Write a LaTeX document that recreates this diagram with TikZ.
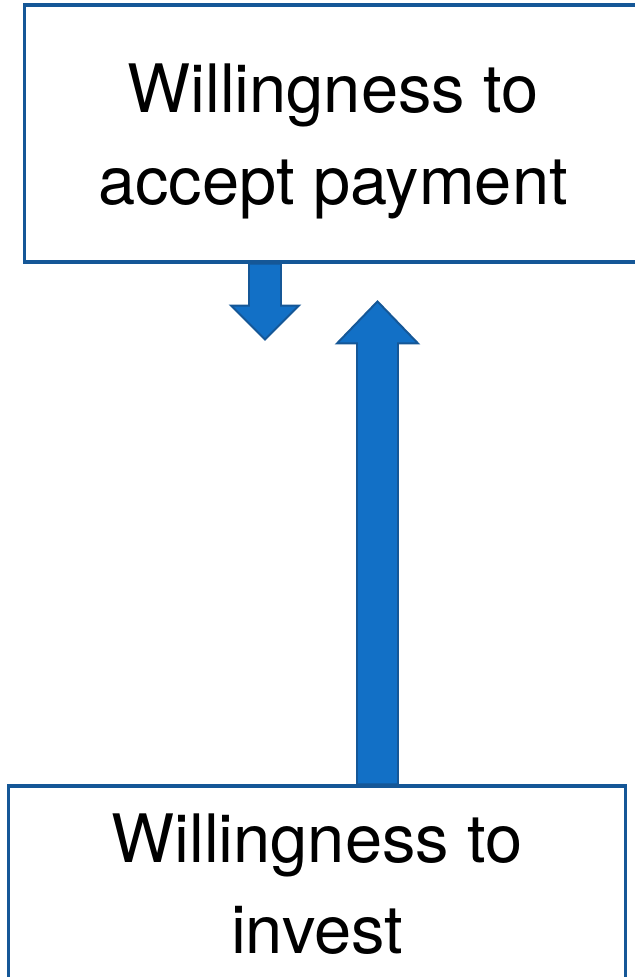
\documentclass[tikz,border=0pt]{standalone}
\usepackage{fontspec}
\setmainfont{TeX Gyre Heros}
\usetikzlibrary{backgrounds}
\definecolor{boxblue}{RGB}{21,87,151}
\definecolor{arrowblue}{RGB}{18,112,198}

\begin{document}
\begin{tikzpicture}[
  x=0.025cm, y=-0.025cm,
  box/.style={draw=boxblue, line width=2.2pt, fill=white, minimum width=15.4cm},
  boxtext/.style={align=center, font=\fontsize{47.5}{65}\selectfont},
  blockarrow/.style={draw=boxblue, fill=arrowblue, line width=1.4pt, line join=miter}
]
  \useasboundingbox (0,0) rectangle (635,977);
  \clip (0,0) rectangle (635,977);
  \node[box, minimum height=6.425cm] (accept) at (333,133.5) {};
  \node[boxtext] (accepttext) at ([yshift=-0.2cm]accept.center) {Willingness to\\accept payment};
  \node[box, minimum height=5.4cm] (invest) at (317,894) {};
  \node[boxtext] (investtext) at ([yshift=0.25cm]invest.center) {Willingness to\\invest};
  \coordinate (dtop) at (265,0 |- accept.south);
  \coordinate (ubot) at (377.5,0 |- invest.north);
  \begin{scope}[on background layer]
    % short arrow down from the top box
    \draw[blockarrow] (dtop) ++(-16,0) -- ++(0,42) -- ++(-18,0) -- ++(34,34) -- ++(34,-34) -- ++(-18,0) -- ++(0,-42) -- cycle;
    % long arrow up from the bottom box
    \draw[blockarrow] (ubot) ++(-20.5,0) -- ++(0,-441) -- ++(-20,0) -- ++(40.5,-42) -- ++(40.5,42) -- ++(-20,0) -- ++(0,441) -- cycle;
  \end{scope}
\end{tikzpicture}
\end{document}
